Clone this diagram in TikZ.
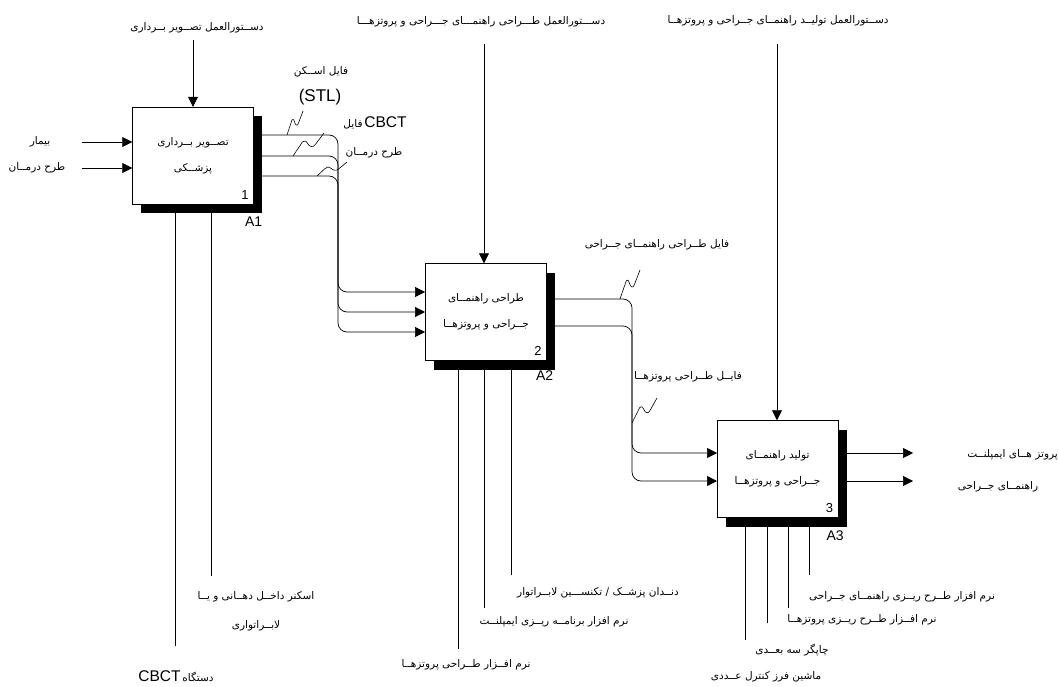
\documentclass[tikz,border=0pt]{standalone}
\usepackage{fontspec}
\setmainfont{Liberation Sans}
\newfontfamily\farsi[Script=Arabic]{DejaVu Sans}
\TeXXeTstate=1
\usetikzlibrary{arrows.meta,shadows,calc}
\newcommand{\fa}[1]{{\farsi\beginR #1\endR}}

\begin{document}
\begin{tikzpicture}[x=1pt, y=-1pt,
    proc/.style={draw, fill=white, rectangle, minimum width=121pt, minimum height=97pt, inner sep=0pt, align=center, font=\fontsize{10.5}{26}\selectfont, drop shadow={shadow xshift=8.5pt, shadow yshift=-9pt, fill=black, opacity=1}},
    lbl/.style={inner sep=0pt, align=center, font=\fontsize{10.5}{29}\selectfont},
    num/.style={inner sep=0pt, font=\fontsize{13}{13}\selectfont},
    flow/.style={draw, line width=0.7pt, rounded corners=9pt, -{Triangle[length=10pt,width=10pt]}},
    mech/.style={draw, line width=0.7pt},
    squig/.style={line width=0.6pt, to path={let \p1=($(\tikztotarget)-(\tikztostart)$) in
        -- ($(\tikztostart)+(0.25*\x1,0.5*\y1)$)
        .. controls ($(\tikztostart)+(0.3*\x1,0.68*\y1)$) and ($(\tikztostart)+(0.42*\x1,0.7*\y1)$) .. ($(\tikztostart)+(0.47*\x1,0.55*\y1)$)
        .. controls ($(\tikztostart)+(0.52*\x1,0.4*\y1)$) and ($(\tikztostart)+(0.65*\x1,0.35*\y1)$) .. ($(\tikztostart)+(0.72*\x1,0.5*\y1)$)
        -- (\tikztotarget)}}]
    \useasboundingbox (0,0) rectangle (1059,687);

    % Boxes
    \node[proc] (A1) at (193,155.5) {\fa{تصــویر بــرداری}\\\fa{پزشــکی}};
    \node[proc] (A2) at (486,312) {\fa{طراحی راهنمــای}\\\fa{جــراحی و پروتزهــا}};
    \node[proc] (A3) at (777.5,469) {\fa{تولید راهنمــای}\\\fa{جــراحی و پروتزهــا}};

    \node[num, anchor=south east] (n1) at ($(A1.south east)+(-5,-5)$) {1};
    \node[num, anchor=south east] (n2) at ($(A2.south east)+(-5,-5)$) {2};
    \node[num, anchor=south east] (n3) at ($(A3.south east)+(-5,-5)$) {3};
    \node[num, font=\fontsize{14}{14}\selectfont] (a1) at ($(A1.south east)+(0,17)$) {A1};
    \node[num, font=\fontsize{14}{14}\selectfont] (a2) at ($(A2.south east)+(-2,15)$) {A2};
    \node[num, font=\fontsize{14}{14}\selectfont] (a3) at ($(A3.south east)+(-3,18)$) {A3};

    % Controls
    \node[lbl] (ctl1) at (197,28) {\fa{دســتورالعمل تصــویر بــرداری}};
    \node[lbl] (ctl2) at (481,22) {\fa{دســـتورالعمل طـــراحی راهنمـــای جـــراحی و پروتزهـــا}};
    \node[lbl] (ctl3) at (778,21) {\fa{دســتورالعمل تولیــد راهنمــای جــراحی و پروتزهــا}};
    \coordinate (c1) at (193,40);
    \coordinate (c2) at (484,44);
    \coordinate (c3) at (777,44);
    \draw[flow] (c1) -- (c1 |- A1.north);
    \draw[flow] (c2) -- (c2 |- A2.north);
    \draw[flow] (c3) -- (c3 |- A3.north);

    % Inputs
    \node[lbl] (patient) at (40,142) {\fa{بیمار}};
    \node[lbl] (plan) at (37,168) {\fa{طرح درمــان}};
    \coordinate (i11) at (82,142);
    \coordinate (i12) at (82,168);
    \draw[flow] (i11) -- (i11 -| A1.west);
    \draw[flow] (i12) -- (i12 -| A1.west);

    % A1 to A2
    \coordinate (bus1) at (338,0);
    \coordinate (o11) at (253,135);
    \coordinate (o12) at (253,156);
    \coordinate (o13) at (253,176);
    \coordinate (i21) at (425,292);
    \coordinate (i22) at (425,312);
    \coordinate (i23) at (425,332);
    \draw[flow] (o11) -| (bus1 |- i21) -- (i21);
    \draw[flow] (o12) -| (bus1 |- i22) -- (i22);
    \draw[flow] (o13) -| (bus1 |- i23) -- (i23);

    \node[lbl] (scan) at (321,72) {\fa{فایل اســکن}};
    \node[lbl, font=\fontsize{17}{17}\selectfont] (stl) at (320,97) {(STL)};
    \node[lbl] (cbct) at (375,123) {\fa{فایل}\,{\fontsize{15.5}{15.5}\selectfont CBCT}};
    \node[lbl] (plan2) at (374,153) {\fa{طرح درمــان}};
    \coordinate (q11) at (287,135);
    \coordinate (p11) at (303,111);
    \coordinate (q12) at (293,156);
    \coordinate (p12) at (324,133);
    \coordinate (q13) at (317,176);
    \coordinate (p13) at (347,162);
    \draw[squig] (q11) to (p11);
    \draw[squig] (q12) to (p12);
    \draw[squig] (q13) to (p13);

    % A2 to A3
    \coordinate (bus2) at (632,0);
    \coordinate (o21) at (547,299);
    \coordinate (o22) at (547,326);
    \coordinate (i31) at (717,453);
    \coordinate (i32) at (717,481);
    \draw[flow] (o21) -| (bus2 |- i31) -- (i31);
    \draw[flow] (o22) -| (bus2 |- i32) -- (i32);

    \node[lbl] (guidefile) at (657,245) {\fa{فایل طــراحی راهنمــای جــراحی}};
    \node[lbl] (prosfile) at (688,377) {\fa{فایــل طــراحی پروتزهــا}};
    \coordinate (q21) at (620,299);
    \coordinate (p21) at (640,270);
    \coordinate (q22) at (632,423);
    \coordinate (p22) at (657,398);
    \draw[squig] (q21) to (p21);
    \draw[squig] (q22) to (p22);

    % Outputs
    \coordinate (o31) at (838,453);
    \coordinate (o32) at (838,481);
    \coordinate (t31) at (913,453);
    \coordinate (t32) at (913,481);
    \draw[flow] (o31) -- (t31);
    \draw[flow] (o32) -- (t32);
    \node[lbl, anchor=east] (implant) at (1058,455) {\fa{پروتز هــای ایمپلنــت}};
    \node[lbl] (guide) at (998,487) {\fa{راهنمــای جــراحی}};

    % Mechanisms of A1
    \coordinate (m11) at (175,646);
    \coordinate (m12) at (211,576);
    \draw[mech] (m11) -- (m11 |- A1.south);
    \draw[mech] (m12) -- (m12 |- A1.south);
    \node[lbl] (scanner) at (256,611) {\fa{اسکنر داخــل دهــانی و یــا}\\\fa{لابــراتواری}};
    \node[lbl] (device) at (176,676) {{\fontsize{15.5}{15.5}\selectfont CBCT}\,\fa{دستگاه}};

    % Mechanisms of A2
    \coordinate (m21) at (458,649);
    \coordinate (m22) at (484,608);
    \coordinate (m23) at (511,575);
    \draw[mech] (m21) -- (m21 |- A2.south);
    \draw[mech] (m22) -- (m22 |- A2.south);
    \draw[mech] (m23) -- (m23 |- A2.south);
    \node[lbl] (dentist) at (598,593) {\fa{دنــدان پزشــک / تکنســـین لابــراتوار}};
    \node[lbl] (plansoft) at (554,622) {\fa{نرم افزار برنامــه ریــزی ایمپلنــت}};
    \node[lbl] (prossoft) at (466,665) {\fa{نرم افــزار طــراحی پروتزهــا}};

    % Mechanisms of A3
    \coordinate (m31) at (745,640);
    \coordinate (m32) at (767,623);
    \coordinate (m33) at (788,608);
    \coordinate (m34) at (809,575);
    \draw[mech] (m31) -- (m31 |- A3.south);
    \draw[mech] (m32) -- (m32 |- A3.south);
    \draw[mech] (m33) -- (m33 |- A3.south);
    \draw[mech] (m34) -- (m34 |- A3.south);
    \node[lbl] (guidesoft) at (902,597) {\fa{نرم افزار طــرح ریــزی راهنمــای جــراحی}};
    \node[lbl] (prosplan) at (862,620) {\fa{نرم افــزار طــرح ریــزی پروتزهــا}};
    \node[lbl] (printer) at (792,650) {\fa{چاپگر سه بعــدی}};
    \node[lbl] (mill) at (766,677) {\fa{ماشین فرز کنترل عــددی}};

\end{tikzpicture}
\end{document}
